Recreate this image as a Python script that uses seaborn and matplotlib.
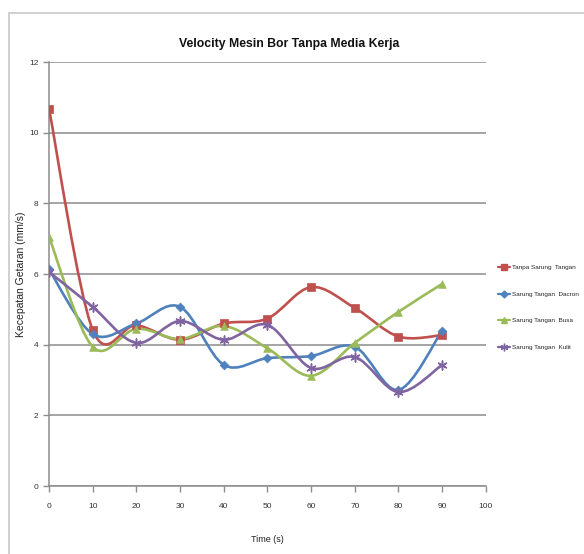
import numpy as np
import matplotlib
matplotlib.use("Agg")
import matplotlib.pyplot as plt
from matplotlib.path import Path
from matplotlib.patches import PathPatch, Rectangle
from matplotlib.lines import Line2D
import seaborn as sns

# data
time = [0, 10, 20, 30, 40, 50, 60, 70, 80, 90]
tanpa_sarung = [10.68, 4.42, 4.55, 4.14, 4.60, 4.74, 5.63, 5.04, 4.23, 4.27]
sarung_dacron = [6.13, 4.30, 4.60, 5.07, 3.43, 3.62, 3.68, 3.94, 2.72, 4.40]
sarung_busa = [7.05, 3.94, 4.45, 4.16, 4.53, 3.90, 3.12, 4.05, 4.93, 5.72]
sarung_kulit = [6.06, 5.07, 4.05, 4.67, 4.14, 4.56, 3.34, 3.65, 2.66, 3.43]

series_names = ["Tanpa Sarung  Tangan", "Sarung Tangan  Dacron",
                "Sarung Tangan  Busa", "Sarung Tangan  Kulit"]
colors = ["#C0504D", "#4F81BD", "#9BBB59", "#8064A2"]
markers = ["s", "D", "^", (6, 2, 0)]
marker_sizes = [5.5, 4.5, 5.5, 6.5]

sns.set_style("white")
plt.rcParams['font.family'] = ['Liberation Sans', 'DejaVu Sans']


def smooth_path(x, y):
    """Excel-like smoothed line as cubic bezier path."""
    x = np.asarray(x, float)
    y = np.asarray(y, float)
    px = np.concatenate([[x[0]], x, [x[-1]]])
    py = np.concatenate([[y[0]], y, [y[-1]]])
    verts = [(x[0], y[0])]
    codes = [Path.MOVETO]
    for i in range(1, len(x)):
        c1 = (px[i] + (px[i + 1] - px[i - 1]) / 6, py[i] + (py[i + 1] - py[i - 1]) / 6)
        c2 = (px[i + 1] - (px[i + 2] - px[i]) / 6, py[i + 1] - (py[i + 2] - py[i]) / 6)
        verts += [c1, c2, (px[i + 1], py[i + 1])]
        codes += [Path.CURVE4] * 3
    return Path(verts, codes)


fig = plt.figure(figsize=(5.84, 5.54), dpi=100)
ax = fig.add_axes([0.0839, 0.1227, 0.748, 0.7653])

# chart area frame
fig.patches.append(Rectangle((0.015, -0.01), 0.99, 0.987, transform=fig.transFigure,
                             fill=False, edgecolor="#c8c8c8", lw=1.2))

all_series = [tanpa_sarung, sarung_dacron, sarung_busa, sarung_kulit]
handles = []
for vals, name, c, m, ms in zip(all_series, series_names, colors, markers, marker_sizes):
    ax.add_patch(PathPatch(smooth_path(time, vals), facecolor="none", edgecolor=c,
                           lw=1.9, zorder=3))
    sns.scatterplot(x=time, y=vals, ax=ax, marker=m, color=c, s=ms ** 2,
                    edgecolor=c, linewidth=1.1 if m == markers[3] else 0.5, zorder=4)
    handles.append(Line2D([0], [0], color=c, lw=1.6, marker=m, markersize=ms - 1,
                          markeredgecolor=c, label=name))

ax.set_xlim(0, 100)
ax.set_ylim(0, 12)
ax.set_xticks(range(0, 101, 10))
ax.set_yticks(range(0, 13, 2))
ax.grid(axis="y", color="#8c8c8c", lw=1.1)
ax.grid(axis="x", visible=False)
ax.set_axisbelow(True)
for s in ["top", "right"]:
    ax.spines[s].set_visible(False)
for s in ["left", "bottom"]:
    ax.spines[s].set_color("#8c8c8c")
    ax.spines[s].set_linewidth(1.1)
ax.tick_params(axis="both", direction="out", length=4, width=1, color="#8c8c8c",
               labelsize=6, labelcolor="#333333", left=True, bottom=True)
ax.tick_params(axis="x", pad=8)

ax.set_xlabel("Time (s)", fontsize=6.5, labelpad=18, color="#222222")
ax.set_ylabel("Kecepatan Getaran (mm/s)", fontsize=7.5, labelpad=2, color="#222222")
fig.text(0.496, 0.921, "Velocity Mesin Bor Tanpa Media Kerja", ha="center", va="center",
         fontsize=8.8, fontweight="bold", color="#111111")

fig.legend(handles=handles, loc="center left", bbox_to_anchor=(0.852, 0.445),
           frameon=False, fontsize=4.6, handlelength=2.0, labelspacing=3.3,
           handletextpad=0.3, borderaxespad=0, borderpad=0)

fig.savefig("out.png", dpi=100)
